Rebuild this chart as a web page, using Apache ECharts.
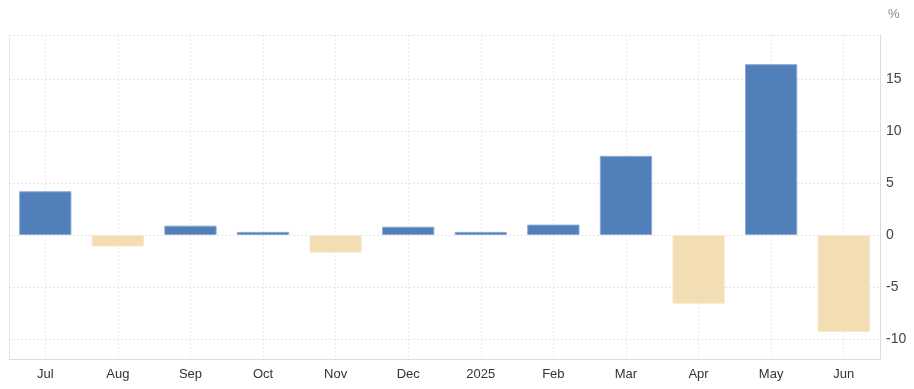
<!DOCTYPE html>
<html>
<head>
<meta charset="utf-8">
<script src="https://cdn.jsdelivr.net/npm/echarts@6/dist/echarts.min.js"></script>
<style>html,body{margin:0;padding:0;background:#fff;}#c{width:914px;height:389px;}</style>
</head>
<body>
<div id="c"></div>
<script>
const categories = ['Jul','Aug','Sep','Oct','Nov','Dec','2025','Feb','Mar','Apr','May','Jun'];
const values = [4.2, -1.1, 0.9, 0.3, -1.7, 0.8, 0.3, 1.0, 7.6, -6.6, 16.4, -9.3];
const yMin = -11.9;
const yMax = 19.2;

const chart = echarts.init(document.getElementById('c'), null, {renderer: 'canvas'});
chart.setOption({
  animation: false,
  backgroundColor: '#fff',
  grid: {left: 9, right: 34, top: 35, bottom: 30, show: false},
  xAxis: {
    type: 'category',
    data: categories,
    boundaryGap: true,
    axisLine: {show: true, onZero: false, lineStyle: {color: '#dcdcdc', width: 1}},
    axisTick: {show: false},
    axisLabel: {color: '#333', fontFamily: 'Liberation Sans, Arial, sans-serif', fontSize: 13, margin: 9},
    splitLine: {show: true, alignWithLabel: true, lineStyle: {color: '#e8e8e8', type: [2, 2], width: 1}}
  },
  yAxis: [{
    type: 'value',
    position: 'right',
    min: yMin,
    max: yMax,
    splitNumber: 6,
    name: '%',
    nameLocation: 'end',
    nameGap: 14,
    nameTextStyle: {color: '#888', fontFamily: 'Liberation Sans, Arial, sans-serif', fontSize: 13, align: 'left', padding: [0, 0, 0, 8]},
    axisLine: {show: true, lineStyle: {color: '#dcdcdc', width: 1}},
    axisTick: {show: false},
    axisLabel: {color: '#444', fontFamily: 'Liberation Sans, Arial, sans-serif', fontSize: 14, margin: 6, showMinLabel: false, showMaxLabel: false},
    splitLine: {show: true, lineStyle: {color: '#e4e4e4', type: [2, 2], width: 1}}
  }, {
    type: 'value',
    position: 'left',
    min: yMin,
    max: yMax,
    axisLine: {show: true, lineStyle: {color: '#e6e6e6', width: 1}},
    axisTick: {show: false},
    axisLabel: {show: false},
    splitLine: {show: false}
  }],
  series: [{
    type: 'bar',
    barCategoryGap: '28%',
    data: values.map(v => ({
      value: v,
      itemStyle: v >= 0
        ? {color: '#517fba', borderColor: '#8aa9d3', borderWidth: 1}
        : {color: '#f3ddb3', borderColor: '#f7e8cc', borderWidth: 1}
    }))
  }]
});
</script>
</body>
</html>
